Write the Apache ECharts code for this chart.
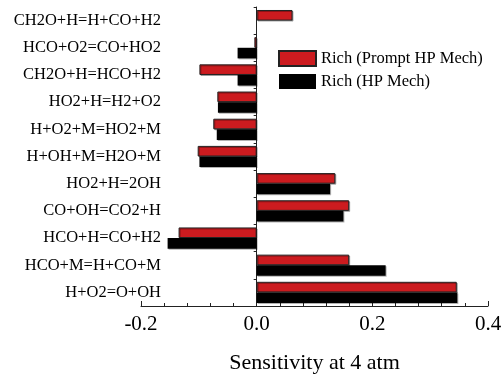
<!DOCTYPE html>
<html>
<head>
<meta charset="utf-8">
<script src="https://cdn.jsdelivr.net/npm/echarts@6/dist/echarts.min.js"></script>
<style>
  html, body { margin: 0; padding: 0; background: #fff; }
  #chart { width: 501px; height: 374px; }
</style>
</head>
<body>
<div id="chart"></div>
<script>
// reactions, top to bottom
const reactions = [
  'CH2O+H=H+CO+H2',
  'HCO+O2=CO+HO2',
  'CH2O+H=HCO+H2',
  'HO2+H=H2+O2',
  'H+O2+M=HO2+M',
  'H+OH+M=H2O+M',
  'HO2+H=2OH',
  'CO+OH=CO2+H',
  'HCO+H=CO+H2',
  'HCO+M=H+CO+M',
  'H+O2=O+OH'
];
const promptHP = [0.062, -0.004, -0.099, -0.068, -0.075, -0.102, 0.136, 0.160, -0.135, 0.160, 0.346];
const plainHP  = [0, -0.033, -0.033, -0.067, -0.069, -0.099, 0.127, 0.150, -0.154, 0.223, 0.347];
const xTicks = [-0.2, 0.4, 0.2]; // min, max, step

const font = 'Liberation Serif, Times New Roman, serif';
const lineCol = '#222';

const chart = echarts.init(document.getElementById('chart'));
chart.setOption({
  animation: false,
  backgroundColor: '#fff',
  textStyle: {fontFamily: font},
  grid: {left: 141, right: 13, top: 7, bottom: 68, outerBoundsMode: 'none', containLabel: false},
  legend: {
    orient: 'vertical',
    left: 273,
    top: 45,
    icon: 'rect',
    itemWidth: 37,
    itemHeight: 15,
    itemGap: 6,
    textStyle: {fontFamily: font, fontSize: 16.5, color: '#000'},
    data: ['Rich (Prompt HP Mech)', 'Rich (HP Mech)']
  },
  xAxis: {
    type: 'value',
    min: xTicks[0],
    max: xTicks[1],
    interval: xTicks[2],
    name: 'Sensitivity at 4 atm',
    nameLocation: 'middle',
    nameGap: 46,
    nameTextStyle: {fontFamily: font, fontSize: 22, color: '#000'},
    splitLine: {show: false},
    axisLine: {show: true, onZero: false, lineStyle: {color: lineCol, width: 1}},
    axisTick: {show: true, inside: true, length: 5, lineStyle: {color: lineCol}},
    minorTick: {show: true, splitNumber: 5, length: 3, lineStyle: {color: lineCol}},
    axisLabel: {
      fontFamily: font, fontSize: 21, color: '#000', margin: 8,
      formatter: v => v.toFixed(1)
    }
  },
  yAxis: [
    {
      type: 'category',
      inverse: true,
      data: reactions,
      axisLine: {show: true, onZero: true, lineStyle: {color: lineCol}},
      axisTick: {show: true, length: 3, lineStyle: {color: lineCol}},
      axisLabel: {show: false}
    },
    {
      type: 'category',
      inverse: true,
      position: 'left',
      offset: -28,
      data: reactions,
      axisLine: {show: false, onZero: false},
      axisTick: {show: false},
      axisLabel: {fontFamily: font, fontSize: 16.5, color: '#000', margin: 8}
    }
  ],
  series: [
    {
      name: 'Rich (Prompt HP Mech)',
      type: 'bar',
      yAxisIndex: 0,
      data: promptHP,
      barGap: '0%',
      barCategoryGap: '22%',
      itemStyle: {
        color: '#cc1b1f', borderColor: '#222', borderWidth: 1,
        shadowColor: 'rgba(0,0,0,0.3)', shadowOffsetX: 1, shadowOffsetY: 1
      }
    },
    {
      name: 'Rich (HP Mech)',
      type: 'bar',
      yAxisIndex: 0,
      data: plainHP,
      barGap: '0%',
      barCategoryGap: '22%',
      itemStyle: {
        color: '#000',
        shadowColor: 'rgba(0,0,0,0.3)', shadowOffsetX: 1, shadowOffsetY: 1
      }
    }
  ]
});
</script>
</body>
</html>
